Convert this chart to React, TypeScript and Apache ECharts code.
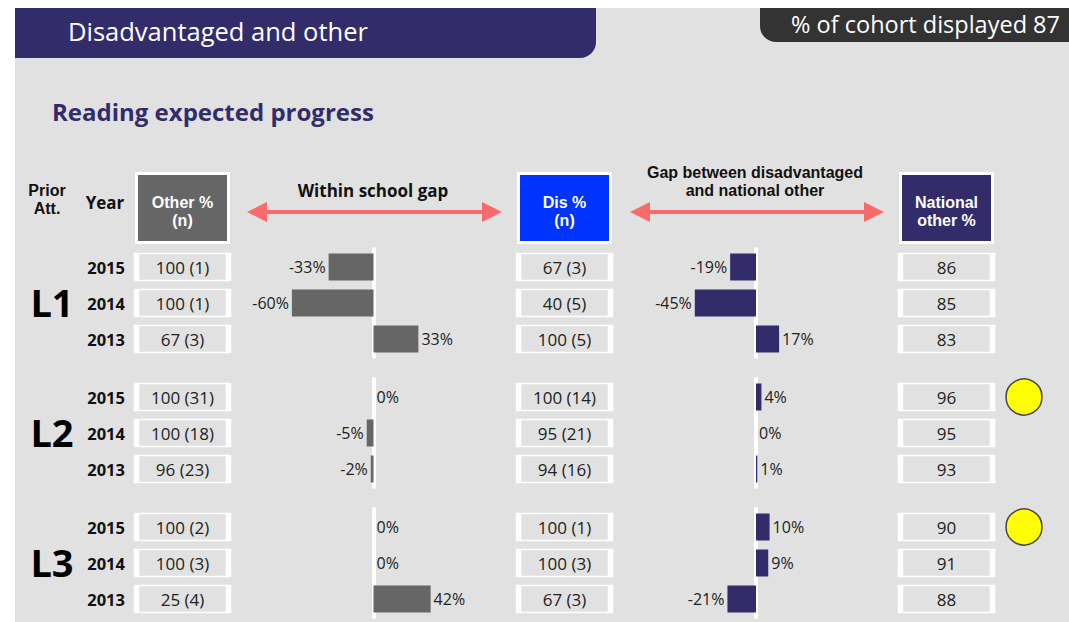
import React, { useEffect, useRef } from 'react';
import * as echarts from 'echarts';

// ---------- data ----------
const groups = ['L1', 'L2', 'L3'];
const years = ['2015', '2014', '2013'];
const otherPct = [[100, 100, 67], [100, 100, 96], [100, 100, 25]];
const otherN = [[1, 1, 3], [31, 18, 23], [2, 3, 4]];
const withinGap = [[-33, -60, 33], [0, -5, -2], [0, 0, 42]];
const disPct = [[67, 40, 100], [100, 95, 94], [100, 100, 67]];
const disN = [[3, 5, 5], [14, 21, 16], [1, 3, 3]];
const nationalGap = [[-19, -45, 17], [4, 0, 1], [10, 9, -21]];
const nationalOther = [[86, 85, 83], [96, 95, 93], [90, 91, 88]];
const flagged = [[false, false, false], [true, false, false], [true, false, false]];
const cohortDisplayed = 87;

const pageTitle = 'Disadvantaged and other';
const subTitle = 'Reading expected progress';

// ---------- layout ----------
const W = 1069;
const H = 622;
const FONT = '"Open Sans", "Noto Sans", sans-serif';
const HFONT = '"Liberation Sans", Arial, sans-serif';
const groupTops = [249, 379, 509];
const rowH = 36;
const cols: Record<string, { left: number; width: number; min: number; max: number }> = {
  other: { left: 135, width: 95, min: -1, max: 1 },
  gap1: { left: 237.5, width: 272, min: -100, max: 100 },
  dis: { left: 517, width: 95, min: -1, max: 1 },
  gap2: { left: 620, width: 272, min: -100, max: 100 },
  nat: { left: 899, width: 95, min: -1, max: 1 },
  flag: { left: 1004, width: 40, min: -1, max: 1 },
};
const colOrder = ['other', 'gap1', 'dis', 'gap2', 'nat', 'flag'];

const PURPLE = '#332c6b';
const ARROW = '#f76b6b';
const TXT = '#222222';

function buildOption() {
  const grid: any[] = [];
  const xAxis: any[] = [];
  const yAxis: any[] = [];
  const series: any[] = [];

  groups.forEach((_, g) => {
    colOrder.forEach((c) => {
      const idx = grid.length;
      const col = cols[c];
      grid.push({ left: col.left, width: col.width, top: groupTops[g], height: rowH * years.length });
      xAxis.push({ gridIndex: idx, type: 'value', min: col.min, max: col.max, show: false });
      const isGap = c === 'gap1' || c === 'gap2';
      yAxis.push({
        gridIndex: idx,
        type: 'category',
        data: years,
        inverse: true,
        show: isGap || c === 'other',
        axisLine: {
          show: isGap,
          onZero: true,
          lineStyle: { color: '#ffffff', width: 4 },
        },
        axisTick: { show: false },
        splitLine: { show: false },
        axisLabel: {
          show: c === 'other',
          fontWeight: 'bold',
          fontSize: 16.5,
          color: '#111',
          margin: 10,
          fontFamily: FONT,
        },
      });

      if (c === 'other' || c === 'dis' || c === 'nat') {
        const texts = years.map((_, i) =>
          c === 'other'
            ? `${otherPct[g][i]} (${otherN[g][i]})`
            : c === 'dis'
            ? `${disPct[g][i]} (${disN[g][i]})`
            : `${nationalOther[g][i]}`
        );
        series.push({
          type: 'scatter',
          xAxisIndex: idx,
          yAxisIndex: idx,
          silent: true,
          symbol: 'rect',
          symbolSize: [92, 27],
          itemStyle: { color: '#e1e1e1', borderColor: '#ffffff', borderWidth: 3, opacity: 1 },
          label: {
            show: true,
            position: 'inside',
            formatter: (p: any) => texts[p.dataIndex],
            fontSize: 17,
            color: TXT,
            fontFamily: FONT,
          },
          data: years.map((y) => [0, y]),
        });
      } else if (isGap) {
        const vals = c === 'gap1' ? withinGap[g] : nationalGap[g];
        series.push({
          type: 'bar',
          xAxisIndex: idx,
          yAxisIndex: idx,
          silent: true,
          barWidth: 27,
          itemStyle: { color: c === 'gap1' ? '#666666' : PURPLE },
          label: {
            show: true,
            formatter: '{c}%',
            fontSize: 16,
            color: TXT,
            distance: 3,
            fontFamily: FONT,
          },
          data: vals.map((v) => ({ value: v, label: { position: v < 0 ? 'left' : 'right' } })),
        });
      } else if (c === 'flag') {
        series.push({
          type: 'scatter',
          xAxisIndex: idx,
          yAxisIndex: idx,
          silent: true,
          symbol: 'circle',
          symbolSize: 36,
          itemStyle: { color: '#ffff00', borderColor: '#444444', borderWidth: 1.5, opacity: 1 },
          data: years.map((y, i) => (flagged[g][i] ? [0, y] : null)).filter((d) => d !== null),
        });
      }
    });
  });

  const txt = (text: string, x: number, y: number, size: number, weight: string, fill: string, align = 'center', family = FONT) => ({
    type: 'text',
    silent: true,
    style: {
      text,
      x,
      y,
      fill,
      fontSize: size,
      fontWeight: weight,
      fontFamily: family,
      align,
      verticalAlign: 'middle',
    },
  });

  const headerBox = (col: { left: number; width: number }, fill: string, line1: string, line2: string) => [
    {
      type: 'rect',
      silent: true,
      shape: { x: col.left + 1.5, y: 173.5, width: col.width - 3, height: 69 },
      style: { fill, stroke: '#ffffff', lineWidth: 3 },
    },
    txt(line1, col.left + col.width / 2, 202, 16, 'bold', '#ffffff', 'center', HFONT),
    txt(line2, col.left + col.width / 2, 220, 16, 'bold', '#ffffff', 'center', HFONT),
  ];

  const arrow = (x1: number, x2: number, y: number) => [
    {
      type: 'line',
      silent: true,
      shape: { x1: x1 + 15, y1: y, x2: x2 - 15, y2: y },
      style: { stroke: ARROW, lineWidth: 4 },
    },
    {
      type: 'polygon',
      silent: true,
      shape: { points: [[x1, y], [x1 + 20, y - 10], [x1 + 20, y + 10]] },
      style: { fill: ARROW },
    },
    {
      type: 'polygon',
      silent: true,
      shape: { points: [[x2, y], [x2 - 20, y - 10], [x2 - 20, y + 10]] },
      style: { fill: ARROW },
    },
  ];

  const graphic: any[] = [
    { type: 'rect', silent: true, z: -10, shape: { x: 15, y: 8, width: W - 15, height: H - 8 }, style: { fill: '#e1e1e1' } },
    { type: 'rect', silent: true, shape: { x: 15, y: 8, width: 581, height: 50, r: [0, 0, 16, 0] }, style: { fill: PURPLE } },
    txt(pageTitle, 68, 31, 25.5, 'normal', '#ffffff', 'left'),
    { type: 'rect', silent: true, shape: { x: 760, y: 8, width: W - 760, height: 34, r: [0, 0, 0, 16] }, style: { fill: '#333333' } },
    txt(`% of cohort displayed ${cohortDisplayed}`, 1060, 24, 23.5, 'normal', '#ffffff', 'right'),
    txt(subTitle, 52, 111, 24, 'bold', PURPLE, 'left'),
    txt('Prior', 47, 190, 16, 'bold', '#111', 'center', HFONT),
    txt('Att.', 47, 208, 16, 'bold', '#111', 'center', HFONT),
    txt('Year', 105, 202, 17, 'bold', '#111'),
    ...headerBox(cols.other, '#666666', 'Other %', '(n)'),
    ...headerBox(cols.dis, '#0033ff', 'Dis %', '(n)'),
    ...headerBox(cols.nat, PURPLE, 'National', 'other %'),
    txt('Within school gap', 373, 190, 17, 'bold', '#111'),
    txt('Gap between disadvantaged', 755, 172.5, 16, 'bold', '#111', 'center', HFONT),
    txt('and national other', 755, 190.5, 16, 'bold', '#111', 'center', HFONT),
    ...arrow(247, 502, 212),
    ...arrow(630, 884, 212),
    ...groups.map((gname, g) => txt(gname, 52, groupTops[g] + rowH * 1.5 - 1, 38, 'bold', '#000')),
  ];

  return {
    animation: false,
    backgroundColor: '#ffffff',
    textStyle: { fontFamily: FONT },
    grid,
    xAxis,
    yAxis,
    series,
    graphic,
  };
}

export default function App() {
  const ref = useRef<HTMLDivElement>(null);
  useEffect(() => {
    document.body.style.margin = '0';
    if (!ref.current) return;
    const chart = echarts.init(ref.current, undefined, { renderer: 'svg' });
    chart.setOption(buildOption() as any);
    return () => chart.dispose();
  }, []);
  return <div ref={ref} style={{ position: 'fixed', left: 0, top: 0, width: W, height: H }} />;
}
